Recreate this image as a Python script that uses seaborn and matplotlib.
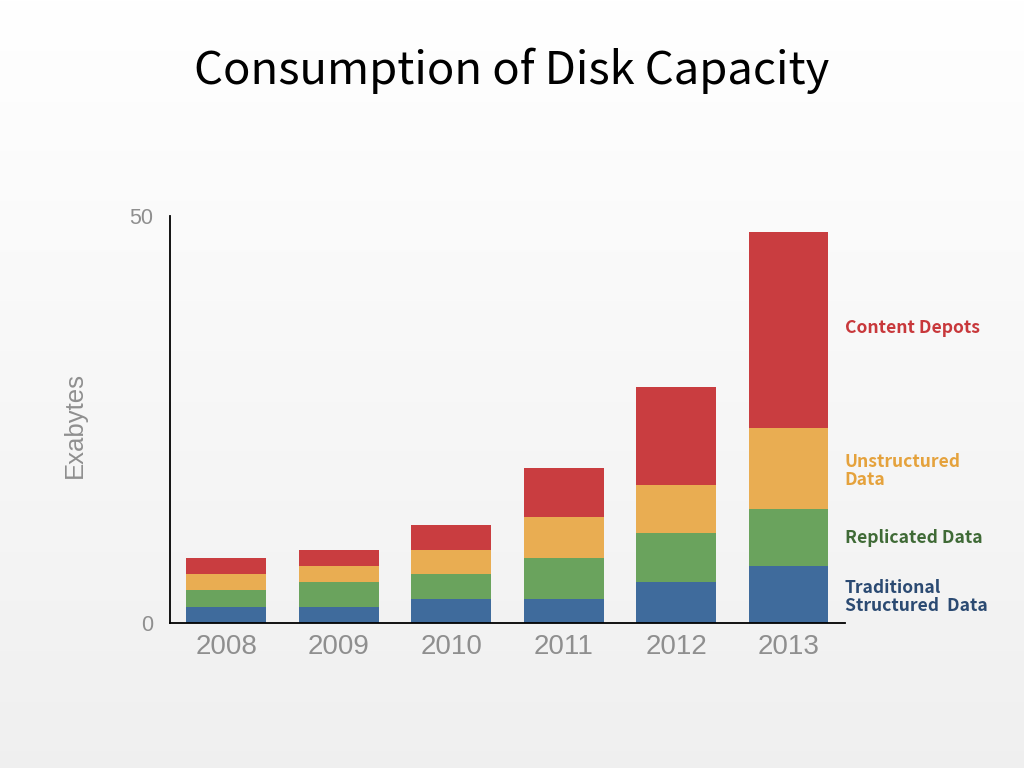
import numpy as np
import pandas as pd
import seaborn as sns
import matplotlib
matplotlib.use("Agg")
import matplotlib.pyplot as plt

years = ["2008", "2009", "2010", "2011", "2012", "2013"]
traditional = [2, 2, 3, 3, 5, 7]
replicated = [2, 3, 3, 5, 6, 7]
unstructured = [2, 2, 3, 5, 6, 10]
content_depots = [2, 2, 3, 6, 12, 24]

series_names = ["Traditional\nStructured  Data", "Replicated Data",
                "Unstructured\nData", "Content Depots"]
bar_colors = ["#3f6b9c", "#6aa35d", "#e9ad52", "#c93d40"]
text_colors = ["#2b4a72", "#3f6a36", "#e5a23c", "#c8383b"]
label_y = [3.2, 10.4, 18.7, 36.2]

sns.set_theme(style="white")
plt.rcParams['font.family'] = ['Liberation Sans', 'DejaVu Sans']
jp_font = ['Noto Sans CJK JP', 'DejaVu Sans']

df = pd.DataFrame({
    "year": years,
    "traditional": traditional,
    "replicated": replicated,
    "unstructured": unstructured,
    "content": content_depots,
})
# cumulative heights for stacking
df["c1"] = df["traditional"]
df["c2"] = df["c1"] + df["replicated"]
df["c3"] = df["c2"] + df["unstructured"]
df["c4"] = df["c3"] + df["content"]

fig = plt.figure(figsize=(10.24, 7.68), dpi=100)

# soft gradient background
bg = fig.add_axes([0, 0, 1, 1], zorder=-10)
grad = np.linspace(1.0, 0.94, 256).reshape(-1, 1)
bg.imshow(np.dstack([grad, grad, grad]), aspect="auto", extent=[0, 1, 0, 1])
bg.axis("off")

ax = fig.add_axes([0.166, 0.1888, 0.659, 0.53])
ax.patch.set_alpha(0)

# draw tallest first so shorter stacks sit on top
for col, color in zip(["c4", "c3", "c2", "c1"], bar_colors[::-1]):
    sns.barplot(data=df, x="year", y=col, color=color, width=0.71,
                saturation=1, ax=ax, linewidth=0)

ax.set_xlim(-0.5, 5.5)
ax.set_ylim(0, 50)
ax.set_yticks([0, 50])
ax.set_yticklabels(["0", "50"])
ax.set_xlabel("")
ax.set_ylabel("")
ax.tick_params(axis="y", length=0, pad=12, labelsize=15.5, labelcolor="#8f8f8f")
ax.tick_params(axis="x", length=0, pad=8, labelsize=20, labelcolor="#8f8f8f")

for side in ["top", "right"]:
    ax.spines[side].set_visible(False)
for side in ["left", "bottom"]:
    ax.spines[side].set_color("black")
    ax.spines[side].set_linewidth(1.3)

fig.text(75 / 1024, 1 - 425 / 768, "Exabytes", rotation=90, ha="center",
         va="center", fontsize=18.5, color="#8f8f8f")

for name, color, y in zip(series_names, text_colors, label_y):
    ax.text(5.5, y, name, color=color, fontsize=12.6, fontweight="bold",
            family=jp_font, ha="left", va="center", linespacing=1.0,
            clip_on=False)

fig.text(0.5, 1 - 71 / 768, "Consumption of Disk Capacity", ha="center",
         va="center", fontsize=32.7, color="black", family=jp_font)

fig.savefig("out.png", dpi=100)
